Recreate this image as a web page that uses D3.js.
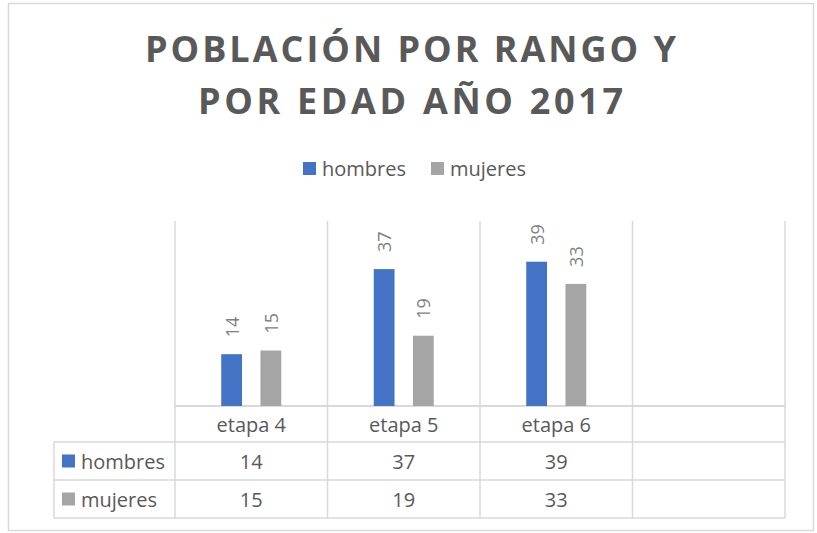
<!DOCTYPE html>
<html>
<head>
<meta charset="utf-8">
<script src="https://cdn.jsdelivr.net/npm/d3@7"></script>
<style>
  body { margin: 0; background: #fff; }
  svg text { font-family: "Open Sans", "Noto Sans", sans-serif; }
</style>
</head>
<body>
<script>
  // chart data
  var categories = ['etapa 4', 'etapa 5', 'etapa 6', ''];
  var seriesNames = ['hombres', 'mujeres'];
  var hombres = [14, 37, 39, null];
  var mujeres = [15, 19, 33, null];
  var titleLines = ['POBLACIÓN POR RANGO Y', 'POR EDAD AÑO 2017'];
  var colors = ['#4472c4', '#a5a5a5'];

  var W = 817, H = 533,
      grid = '#d9d9d9', textCol = '#595959';

  var svg = d3.select('body').append('svg')
    .attr('width', W).attr('height', H);

  // outer chart border
  svg.append('rect')
    .attr('x', 8.5).attr('y', 3.5).attr('width', 805).attr('height', 527)
    .attr('fill', '#fff').attr('stroke', grid).attr('stroke-width', 1.5);

  // title
  var titleW = [531, 425];
  svg.selectAll('text.title')
    .data(titleLines)
    .enter().append('text')
    .attr('class', 'title')
    .attr('x', 410.5)
    .attr('y', function (d, i) { return 62 + i * 52; })
    .attr('text-anchor', 'middle')
    .attr('textLength', function (d, i) { return titleW[i]; })
    .attr('lengthAdjust', 'spacing')
    .style('font-size', '36px')
    .style('font-weight', 'bold')
    .attr('fill', textCol)
    .text(function (d) { return d; });

  // legend
  var legX = [303, 431];
  var leg = svg.selectAll('g.leg')
    .data(seriesNames)
    .enter().append('g')
    .attr('transform', function (d, i) { return 'translate(' + legX[i] + ',162)'; });
  leg.append('rect').attr('width', 13).attr('height', 13)
    .attr('fill', function (d, i) { return colors[i]; });
  leg.append('text').attr('x', 19).attr('y', 14)
    .style('font-size', '20px').attr('fill', textCol)
    .text(function (d) { return d; });

  // scales
  var x0 = d3.scaleBand().domain(categories).range([175, 785]);
  var x1 = d3.scaleBand().domain(seriesNames).range([-30, 30]).paddingInner(0.47);
  var y = d3.scaleLinear().domain([0, 50]).range([406, 221]);

  var values = [hombres, mujeres];

  // vertical gridlines in plot area
  var edges = categories.map(function (c) { return x0(c); }).concat([x0.range()[1]]);
  svg.selectAll('line.vgrid')
    .data(edges)
    .enter().append('line')
    .attr('x1', function (d) { return d; }).attr('x2', function (d) { return d; })
    .attr('y1', y(50)).attr('y2', 518)
    .attr('stroke', grid).attr('stroke-width', 1.5);

  // table horizontal lines
  var rowY = [406, 442, 480, 518];
  svg.selectAll('line.hrow')
    .data(rowY)
    .enter().append('line')
    .attr('x1', function (d, i) { return i === 0 ? 175 : 54; })
    .attr('x2', 785)
    .attr('y1', function (d) { return d; }).attr('y2', function (d) { return d; })
    .attr('stroke', grid).attr('stroke-width', function (d, i) { return i === 0 ? 2 : 1.5; });
  svg.append('line')
    .attr('x1', 54).attr('x2', 54).attr('y1', 442).attr('y2', 518)
    .attr('stroke', grid).attr('stroke-width', 1.5);

  // bars
  var groups = svg.selectAll('g.series')
    .data(seriesNames)
    .enter().append('g');

  groups.each(function (s, si) {
    var g = d3.select(this);
    var pts = categories.map(function (c, ci) { return { c: c, v: values[si][ci] }; })
      .filter(function (p) { return p.v != null; });
    g.selectAll('rect')
      .data(pts)
      .enter().append('rect')
      .attr('x', function (p) { return x0(p.c) + x0.bandwidth() / 2 + x1(s); })
      .attr('width', x1.bandwidth())
      .attr('y', function (p) { return y(p.v); })
      .attr('height', function (p) { return y(0) - y(p.v); })
      .attr('fill', colors[si]);
    g.selectAll('text')
      .data(pts)
      .enter().append('text')
      .attr('transform', function (p) {
        var cx = x0(p.c) + x0.bandwidth() / 2 + x1(s) + x1.bandwidth() / 2;
        return 'translate(' + cx + ',' + (y(p.v) - 17) + ') rotate(-90)';
      })
      .attr('dominant-baseline', 'central')
      .style('font-size', '18px')
      .attr('fill', '#7f7f7f')
      .text(function (p) { return p.v; });
  });

  // category labels (axis)
  var xAxis = d3.axisBottom(x0).tickSize(0).tickPadding(0);
  var ax = svg.append('g').attr('transform', 'translate(0,424)').call(xAxis);
  ax.select('.domain').remove();
  ax.selectAll('text')
    .attr('dy', null).attr('y', 0)
    .attr('dominant-baseline', 'central')
    .style('font-size', '20px')
    .style('font-family', '"Open Sans", sans-serif')
    .attr('fill', textCol);

  // data table rows
  var rowMid = [461, 499];
  seriesNames.forEach(function (s, si) {
    var r = svg.append('g');
    r.append('rect').attr('x', 62).attr('y', rowMid[si] - 6.5)
      .attr('width', 13).attr('height', 13).attr('fill', colors[si]);
    r.append('text').attr('x', 81).attr('y', rowMid[si])
      .attr('dominant-baseline', 'central')
      .style('font-size', '20px').attr('fill', textCol).text(s);
    r.selectAll('text.val')
      .data(categories.map(function (c, ci) { return { c: c, v: values[si][ci] }; })
        .filter(function (p) { return p.v != null; }))
      .enter().append('text')
      .attr('class', 'val')
      .attr('x', function (p) { return x0(p.c) + x0.bandwidth() / 2; })
      .attr('y', rowMid[si])
      .attr('text-anchor', 'middle')
      .attr('dominant-baseline', 'central')
      .style('font-size', '20px').attr('fill', textCol)
      .text(function (p) { return p.v; });
  });
</script>
</body>
</html>
